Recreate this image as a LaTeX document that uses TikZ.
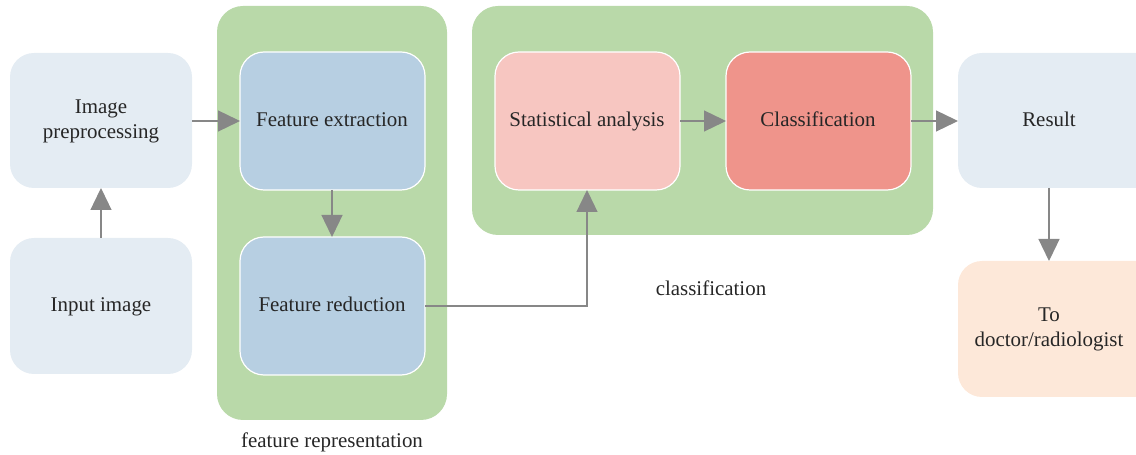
\documentclass[tikz,border=0pt]{standalone}
\usepackage{fontspec}
\setmainfont{Liberation Serif}
\usetikzlibrary{arrows.meta}
\definecolor{grp}{HTML}{B9D9A9}
\definecolor{lgray}{HTML}{E4ECF3}
\definecolor{fblue}{HTML}{B7CFE2}
\definecolor{spink}{HTML}{F7C6C1}
\definecolor{cred}{HTML}{EF948B}
\definecolor{peach}{HTML}{FDE8D9}
\definecolor{arr}{HTML}{878787}
\definecolor{txt}{HTML}{262626}
\tikzset{
  box/.style={rounded corners=24bp},
  wbox/.style={box, draw=white, line width=1.2bp},
  grpbox/.style={fill=grp, rounded corners=26bp},
  conn/.style={draw=arr, line width=1.3bp, -{Triangle[length=22bp,width=21bp]}},
  lbl/.style={text=txt, font=\fontsize{21}{25}\selectfont, inner sep=0pt},
  one/.style={lbl, text height=16bp, text depth=4bp}
}
\begin{document}
\begin{tikzpicture}[x=1bp,y=-1bp]
\useasboundingbox (0,0) rectangle (1136,455);
% groups
\path[grpbox] (217,6) rectangle (447,420);
\path[grpbox] (472,6) rectangle (933,235);
% boxes
\path[box, fill=lgray] (10,53) rectangle (192,188);
\node[lbl, align=center] (pre) at (101,121) {Image\\preprocessing};
\coordinate (preR) at (192,121); \coordinate (preB) at (101,188);
\path[box, fill=lgray] (10,238) rectangle (192,374);
\node[one] (inp) at (101,306) {Input image};
\coordinate (inpT) at (101,238);
\path[wbox, fill=fblue] (240,52) rectangle (425,190);
\node[one] (fe) at (332,121) {Feature extraction};
\coordinate (feL) at (240,121); \coordinate (feB) at (332,190);
\path[wbox, fill=fblue] (240,237) rectangle (425,375);
\node[one] (fr) at (332,306) {Feature reduction};
\coordinate (frT) at (332,237); \coordinate (frR) at (425,306);
\path[wbox, fill=spink] (495,52) rectangle (680,190);
\node[one] (sa) at (587,121) {Statistical analysis};
\coordinate (saL) at (495,121); \coordinate (saR) at (680,121); \coordinate (saB) at (587,190);
\path[wbox, fill=cred] (726,52) rectangle (911,190);
\node[one] (cl) at (818,121) {Classification};
\coordinate (clL) at (726,121); \coordinate (clR) at (911,121);
\path[box, fill=lgray] (958,53) rectangle (1160,188);
\node[one] (res) at (1049,121) {Result};
\coordinate (resL) at (958,121); \coordinate (resB) at (1049,188);
\path[box, fill=peach] (958,261) rectangle (1160,397);
\node[lbl, align=center] (doc) at (1049,329) {To\\doctor/radiologist};
\coordinate (docT) at (1049,261);
% labels
\node[one] (l1) at (332,442) {feature representation};
\node[one] (l2) at (711,290) {classification};
% connectors
\draw[conn] (preR) -- (feL);
\draw[conn] (inpT) -- (preB);
\draw[conn] (feB) -- (frT);
\draw[conn] (frR) -| (saB);
\draw[conn] (saR) -- (clL);
\draw[conn] (clR) -- (resL);
\draw[conn] (resB) -- (docT);
\end{tikzpicture}
\end{document}
